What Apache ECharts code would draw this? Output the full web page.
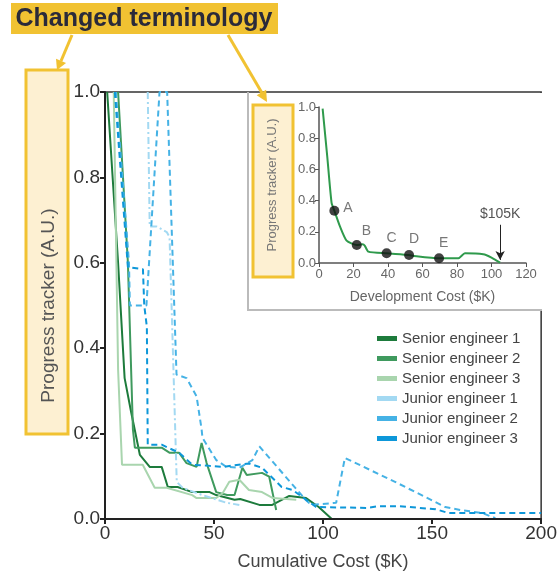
<!DOCTYPE html>
<html>
<head>
<meta charset="utf-8">
<script src="https://cdn.jsdelivr.net/npm/echarts@6/dist/echarts.min.js"></script>
<style>
  html, body { margin: 0; padding: 0; background: #fff; }
  #main { width: 560px; height: 577px; }
</style>
</head>
<body>
<div id="main"></div>
<script>
// ---- data ----
const engineerNames = ['Senior engineer 1', 'Senior engineer 2', 'Senior engineer 3',
  'Junior engineer 1', 'Junior engineer 2', 'Junior engineer 3'];

const senior1 = [[1, 1.0], [6, 0.6], [9, 0.33], [12, 0.25], [16, 0.15], [20.5, 0.122], [26, 0.122],
  [28.8, 0.075], [33.3, 0.075], [40, 0.063], [48, 0.063], [51, 0.056], [59.4, 0.045], [62, 0.047],
  [70.8, 0.033], [76.7, 0.033], [84.5, 0.054], [92.2, 0.049], [98, 0.028], [104, 0]];
const senior2 = [[6, 1.0], [10.5, 0.6], [12.8, 0.21], [13.7, 0.167], [26, 0.167], [29.7, 0.155],
  [34, 0.155], [37.4, 0.131], [42, 0.122], [44.3, 0.178], [46.6, 0.131], [51, 0.063], [56, 0.056],
  [59.4, 0.056], [63, 0.12], [65, 0.103], [72, 0.108], [75.3, 0.099], [78.5, 0.021]];
const senior3 = [[4, 1.0], [6, 0.35], [7.8, 0.127], [17.3, 0.127], [22.8, 0.073], [28.3, 0.073],
  [40, 0.056], [42, 0.049], [51, 0.049], [54, 0.061], [57, 0.087], [61.6, 0.092], [66, 0.068],
  [72, 0.063], [77, 0.049], [87.7, 0.045]];
const junior1 = [[19.6, 1.0], [20.5, 0.685], [23.7, 0.685], [28.3, 0.672], [29.6, 0.66], [32.9, 0.087],
  [35.6, 0.073], [44.7, 0.056], [55.7, 0.038], [61.6, 0.033]];
const junior2 = [[5, 1.0], [11, 0.6], [11.4, 0.5], [19, 0.5], [25, 1.0], [28.5, 1.0], [32.8, 0.338],
  [37.4, 0.33], [42, 0.287], [44.3, 0.21], [44.7, 0.19], [51, 0.138], [55.7, 0.122], [61.6, 0.12],
  [67.6, 0.138], [70.8, 0.17], [92, 0.045], [94.5, 0.033], [106, 0.038], [110, 0.143], [133, 0.087],
  [156, 0.028], [163, 0.021], [173, 0.014], [179, 0.002]];
const junior3 = [[4.5, 1.0], [10.5, 0.59], [17.4, 0.585], [18, 0.5], [19.2, 0.45], [19.6, 0.174],
  [26, 0.174], [34, 0.155], [40, 0.127], [47, 0.125], [54, 0.122], [66, 0.13], [72, 0.12], [81, 0.075],
  [86, 0.068], [93.6, 0.04], [96.8, 0.028], [120, 0.026], [125.6, 0.03], [134.7, 0.03], [151.6, 0.023],
  [157.5, 0.014], [200, 0.014]];
const engineerData = [senior1, senior2, senior3, junior1, junior2, junior3];

// inset: development cost curve
const insetCurve = [[2.1, 0.99], [4.8, 0.68], [7.3, 0.385], [8.9, 0.335], [12.2, 0.233], [16, 0.143],
  [21.9, 0.115], [25.3, 0.12], [26.5, 0.112], [28.6, 0.073], [39.2, 0.062], [52.2, 0.051], [55, 0.045],
  [69.6, 0.03], [80.8, 0.03], [84.6, 0.062], [95.2, 0.056], [100, 0.035], [105, 0.002]];
const insetPointNames = ['A', 'B', 'C', 'D', 'E'];
const insetPointX = [8.9, 21.9, 39.2, 52.2, 69.6];
const insetPointY = [0.335, 0.115, 0.062, 0.051, 0.03];
const finalCost = 105;

const mainXTicks = { min: 0, max: 200, interval: 50 };
const mainYTicks = { min: 0, max: 1, interval: 0.2 };
const insetXTicks = { min: 0, max: 120, interval: 20 };

// ---- styles ----
const colors = ['#1d7b3c', '#3f9a5e', '#a9d5ae', '#a3d9f2', '#45b2e5', '#0d97d9'];
const lineTypes = ['solid', 'solid', 'solid', [7, 3, 2, 3], [6, 4], [6, 4]];
const insetLabelPos = [[14, -5], [10, -16], [5, -17], [5, -18], [5, -17]];
const yellow = '#f1c232';
const cream = '#fdf0d2';

const chart = echarts.init(document.getElementById('main'));
const fontFamily = '"Liberation Sans", Arial, sans-serif';

const mainSeries = engineerNames.map((name, i) => ({
  name: name,
  type: 'line',
  xAxisIndex: 0,
  yAxisIndex: 0,
  data: engineerData[i],
  showSymbol: false,
  color: colors[i],
  lineStyle: { color: colors[i], width: 2, type: lineTypes[i] },
  z: 2
}));

function arrowHead(tip, dir, len, half) {
  const n = Math.hypot(dir[0], dir[1]);
  const ux = dir[0] / n, uy = dir[1] / n;
  const bx = tip[0] - ux * len, by = tip[1] - uy * len;
  return [tip, [bx + uy * half, by - ux * half], [bx - uy * half, by + ux * half]];
}

chart.setOption({
  animation: false,
  textStyle: { fontFamily: fontFamily },
  grid: [
    { left: 105, right: 17, top: 92, bottom: 58, show: true, borderColor: '#333', borderWidth: 1.5 },
    { left: 319, top: 107, width: 207, height: 156 }
  ],
  legend: {
    data: engineerNames,
    orient: 'vertical',
    left: 372,
    top: 325,
    icon: 'rect',
    itemWidth: 20,
    itemHeight: 5,
    itemGap: 3,
    textStyle: { fontSize: 15, color: '#444', lineHeight: 17, fontFamily: fontFamily }
  },
  xAxis: [
    {
      gridIndex: 0, type: 'value', min: mainXTicks.min, max: mainXTicks.max, interval: mainXTicks.interval,
      name: 'Cumulative Cost ($K)', nameLocation: 'middle', nameGap: 34,
      nameTextStyle: { fontSize: 18, color: '#444' },
      axisLine: { lineStyle: { color: '#222', width: 2 } },
      axisTick: { show: true, inside: false, length: 5, lineStyle: { color: '#222', width: 2 } },
      axisLabel: { fontSize: 19, color: '#333', margin: 5 },
      splitLine: { show: false }, z: 3
    },
    {
      gridIndex: 1, type: 'value', min: insetXTicks.min, max: insetXTicks.max, interval: insetXTicks.interval,
      name: 'Development Cost ($K)', nameLocation: 'middle', nameGap: 27,
      nameTextStyle: { fontSize: 14, color: '#666' },
      axisLine: { lineStyle: { color: '#555', width: 1.5 } },
      axisTick: { show: true, length: 4, lineStyle: { color: '#555' } },
      axisLabel: { fontSize: 13, color: '#666', margin: 5 },
      splitLine: { show: false }, z: 6
    }
  ],
  yAxis: [
    {
      gridIndex: 0, type: 'value', min: mainYTicks.min, max: mainYTicks.max, interval: mainYTicks.interval,
      name: 'Progress tracker (A.U.)', nameLocation: 'middle', nameGap: 47,
      nameTextStyle: { fontSize: 19, color: '#555' },
      axisLine: { show: true, lineStyle: { color: '#222', width: 2 } },
      axisTick: { show: true, length: 5, lineStyle: { color: '#222', width: 2 } },
      axisLabel: { fontSize: 19, color: '#333', margin: 5, formatter: v => v.toFixed(1) },
      splitLine: { show: false }, z: 3
    },
    {
      gridIndex: 1, type: 'value', min: mainYTicks.min, max: mainYTicks.max, interval: mainYTicks.interval,
      name: 'Progress tracker (A.U.)', nameLocation: 'middle', nameGap: 40,
      nameTextStyle: { fontSize: 13, color: '#777' },
      axisLine: { show: true, lineStyle: { color: '#555', width: 1.5 } },
      axisTick: { show: true, length: 4, lineStyle: { color: '#555' } },
      axisLabel: { fontSize: 13, color: '#666', margin: 3, formatter: v => v.toFixed(1) },
      splitLine: { show: false }, z: 6
    }
  ],
  series: mainSeries.concat([
    {
      name: 'inset curve', type: 'line', xAxisIndex: 1, yAxisIndex: 1,
      data: insetCurve, showSymbol: false, smooth: 0.2,
      lineStyle: { color: '#2f9a4c', width: 2 }, z: 7,
      markLine: {
        silent: true, symbol: ['none', 'arrow'], symbolSize: [7, 9],
        lineStyle: { color: '#222', width: 1, type: 'solid' },
        label: { show: true, position: 'start', distance: 4, formatter: '$' + finalCost + 'K', fontSize: 14, color: '#555' },
        data: [[{ coord: [finalCost, 0.245] }, { coord: [finalCost, 0.02] }]]
      }
    },
    {
      name: 'inset points', type: 'scatter', xAxisIndex: 1, yAxisIndex: 1,
      symbolSize: 10, itemStyle: { color: '#111' }, z: 8,
      data: insetPointNames.map((n, i) => ({
        name: n, value: [insetPointX[i], insetPointY[i]],
        label: { show: true, position: insetLabelPos[i], formatter: '{b}', fontSize: 14, color: '#555' }
      }))
    }
  ]),
  graphic: [
    // inset panel background
    { type: 'rect', z: 5, shape: { x: 249, y: 93, width: 293, height: 217 }, style: { fill: '#fff' } },
    { type: 'line', z: 5, shape: { x1: 248, y1: 92, x2: 248, y2: 311 }, style: { stroke: '#bbb', lineWidth: 2 } },
    { type: 'line', z: 5, shape: { x1: 248, y1: 310, x2: 542, y2: 310 }, style: { stroke: '#bbb', lineWidth: 2 } },
    // highlight boxes behind the axis names
    { type: 'rect', z: 1, shape: { x: 26, y: 70, width: 42, height: 364 }, style: { fill: cream, stroke: yellow, lineWidth: 3 } },
    { type: 'rect', z: 5, shape: { x: 253, y: 105, width: 40, height: 172 }, style: { fill: cream, stroke: yellow, lineWidth: 3 } },
    // title tag
    { type: 'rect', z: 10, shape: { x: 11, y: 3, width: 267, height: 31 }, style: { fill: yellow } },
    { type: 'text', z: 11, x: 144, y: 19, style: { text: 'Changed terminology', fill: '#2a2a3a', font: 'bold 25px ' + fontFamily, align: 'center', verticalAlign: 'middle' } },
    // pointer arrows
    { type: 'line', z: 10, shape: { x1: 72, y1: 35, x2: 61, y2: 61 }, style: { stroke: yellow, lineWidth: 3 } },
    { type: 'polygon', z: 10, shape: { points: arrowHead([57, 70], [-15, 34], 10, 5.5) }, style: { fill: yellow } },
    { type: 'line', z: 10, shape: { x1: 228, y1: 35, x2: 262, y2: 93 }, style: { stroke: yellow, lineWidth: 3 } },
    { type: 'polygon', z: 10, shape: { points: arrowHead([267, 102], [39, 66], 11, 5.5) }, style: { fill: yellow } }
  ]
});
</script>
</body>
</html>
